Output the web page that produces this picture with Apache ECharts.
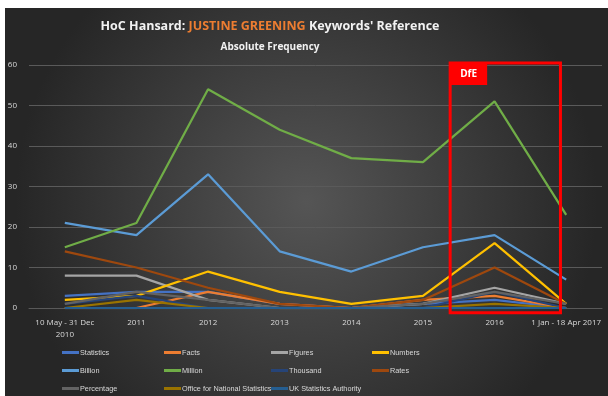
<!DOCTYPE html>
<html>
<head>
<meta charset="utf-8">
<script src="https://cdn.jsdelivr.net/npm/echarts@6/dist/echarts.min.js"></script>
<style>
  html, body { margin: 0; padding: 0; background: #ffffff; }
  #chart { width: 608px; height: 396px; }
</style>
</head>
<body>
<div id="chart"></div>
<script>
// Periods covered by the Hansard search
const periods = ['10 May - 31 Dec\n2010', '2011', '2012', '2013', '2014', '2015', '2016', '1 Jan - 18 Apr 2017'];

// Keyword mention counts per period
const statistics      = [3, 4, 4, 1, 0, 1, 2, 0];
const facts           = [0, 0, 4, 1, 0, 2, 3, 0];
const figures         = [8, 8, 2, 0, 0, 1, 5, 1];
const numbers         = [2, 3, 9, 4, 1, 3, 16, 1];
const billion         = [21, 18, 33, 14, 9, 15, 18, 7];
const million         = [15, 21, 54, 44, 37, 36, 51, 23];
const thousand        = [1, 3, 0, 0, 0, 0, 4, 0];
const rates           = [14, 10, 5, 1, 0, 2, 10, 1];
const percentage      = [1, 4, 2, 0, 0, 1, 4, 1];
const ons             = [0, 2, 0, 0, 0, 0, 1, 0];
const ukStatsAuth     = [0, 0, 0, 0, 0, 0, 0, 0];

const yTicks = { min: 0, max: 60, interval: 10 };

const seriesDefs = [
  ['Statistics', statistics, '#4472C4'],
  ['Facts', facts, '#ED7D31'],
  ['Figures', figures, '#A5A5A5'],
  ['Numbers', numbers, '#FFC000'],
  ['Billion', billion, '#5B9BD5'],
  ['Million', million, '#70AD47'],
  ['Thousand', thousand, '#264478'],
  ['Rates', rates, '#9E480E'],
  ['Percentage', percentage, '#636363'],
  ['Office for National Statistics', ons, '#997300'],
  ['UK Statistics Authority', ukStatsAuth, '#255E91']
];

// Legend laid out as a 4-column grid, filled row by row
const legendColX = [62, 164, 271, 372];
const legendRowY = [349, 367, 385];

const FONT = '"Open Sans", "Noto Sans", sans-serif';
const NARROW = '"Liberation Sans Narrow", "Arial Narrow", "Liberation Sans", sans-serif';
const chart = echarts.init(document.getElementById('chart'), null, { renderer: 'canvas' });

const panel = {
  type: 'rect', z: -10, silent: true,
  shape: { x: 5, y: 8, width: 603, height: 388 },
  style: {
    fill: new echarts.graphic.RadialGradient(0.5, 0.5, 0.75, [
      { offset: 0, color: '#555555' },
      { offset: 1, color: '#262626' }
    ])
  }
};

const option = {
  backgroundColor: '#ffffff',
  animation: false,
  textStyle: { fontFamily: FONT },
  title: [
    {
      text: '{a|HoC Hansard: }{b|JUSTINE GREENING}{a| Keywords\' Reference}',
      left: 265, top: 15, textAlign: 'center',
      textStyle: {
        rich: {
          a: { color: '#f2f2f2', fontSize: 12.5, fontWeight: 'bold', fontFamily: FONT },
          b: { color: '#ED7D31', fontSize: 12.5, fontWeight: 'bold', fontFamily: FONT }
        }
      }
    },
    {
      text: 'Absolute Frequency',
      left: 265, top: 37, textAlign: 'center',
      textStyle: { color: '#f2f2f2', fontSize: 10, fontWeight: 'bold', fontFamily: FONT }
    }
  ],
  grid: { left: 29, right: 6, top: 65, bottom: 88, containLabel: false },
  xAxis: {
    type: 'category',
    data: periods,
    boundaryGap: true,
    axisLine: { show: true, lineStyle: { color: '#595959', width: 1 } },
    axisTick: { show: false },
    axisLabel: { color: '#d9d9d9', fontSize: 8, margin: 9, interval: 0, lineHeight: 12, fontFamily: FONT }
  },
  yAxis: {
    type: 'value',
    min: yTicks.min, max: yTicks.max, interval: yTicks.interval,
    axisLine: { show: false },
    axisTick: { show: false },
    axisLabel: { color: '#d9d9d9', fontSize: 8, margin: 12, fontFamily: FONT },
    splitLine: { lineStyle: { color: '#5a5a5a', width: 1 } }
  },
  legend: seriesDefs.map(([name], i) => ({
    left: legendColX[i % 4], top: legendRowY[Math.floor(i / 4)],
    padding: 0,
    itemWidth: 17, itemHeight: 3,
    icon: 'rect',
    data: [name],
    textStyle: { color: '#d9d9d9', fontSize: 7.3, padding: [0, 0, 0, -4], fontFamily: NARROW },
    selectedMode: false
  })),
  series: seriesDefs.map(([name, data, color]) => ({
    name, type: 'line', data,
    symbol: 'none',
    lineStyle: { width: 2.25, color },
    itemStyle: { color }
  })),
  graphic: [panel]
};

chart.setOption(option);

// DfE period annotation box, placed from the axis scales
const p5 = chart.convertToPixel({ gridIndex: 0 }, [5, 60.5]);
const p6 = chart.convertToPixel({ gridIndex: 0 }, [6, -1.2]);
const p7 = chart.convertToPixel({ gridIndex: 0 }, [7, 0]);
const boxLeft = p5[0] + (p6[0] - p5[0]) * 0.38;
const boxRight = p6[0] + (p7[0] - p6[0]) * 0.92;
const boxTop = p5[1];
const boxBottom = p6[1];

chart.setOption({
  graphic: [
    panel,
    {
      type: 'rect', z: 100, silent: true,
      shape: { x: boxLeft, y: boxTop, width: boxRight - boxLeft, height: boxBottom - boxTop },
      style: { fill: 'none', stroke: '#FF0000', lineWidth: 3 }
    },
    {
      type: 'rect', z: 100, silent: true,
      shape: { x: boxLeft, y: boxTop, width: 37, height: 22 },
      style: { fill: '#FF0000' }
    },
    {
      type: 'text', z: 101, silent: true,
      x: boxLeft + 18.5, y: boxTop + 11,
      style: { text: 'DfE', fill: '#ffffff', font: 'bold 10px ' + FONT, align: 'center', verticalAlign: 'middle' }
    }
  ]
});
</script>
</body>
</html>
